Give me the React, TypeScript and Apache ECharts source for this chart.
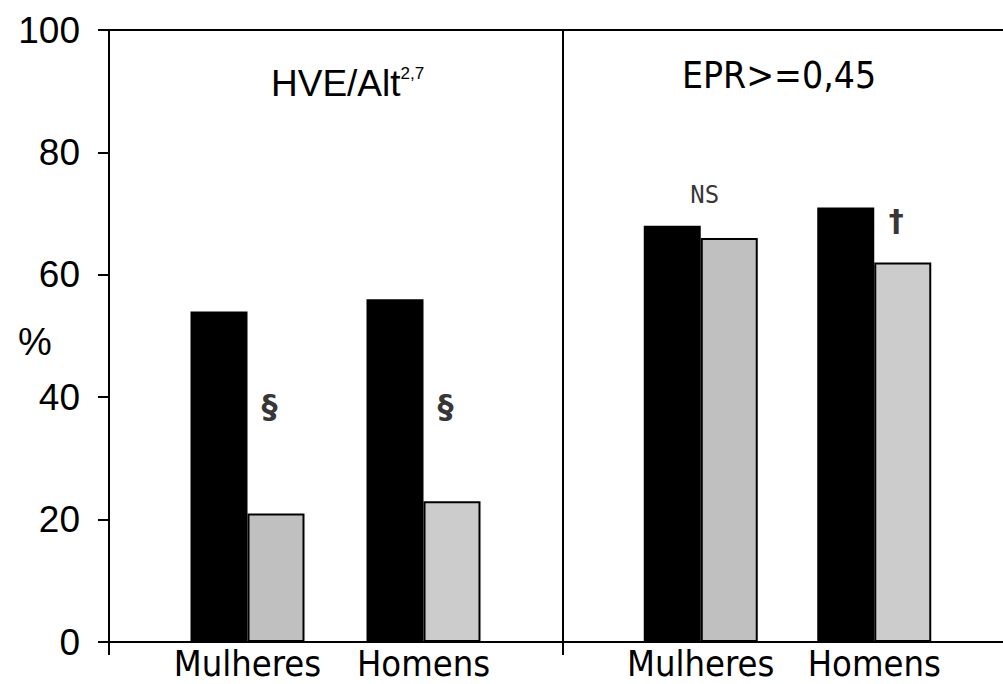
import React, { useEffect, useRef } from "react";
import * as echarts from "echarts";

const groups = ["Mulheres", "Homens"];
const hveBlack = [54, 56];
const hveGray = [21, 23];
const eprBlack = [68, 71];
const eprGray = [66, 62];
const grayColors = ["#c0c0c0", "#cccccc"];
const yTicks = { min: 0, max: 100, interval: 20 };
const panelTitles = ["HVE/Alt", "EPR>=0,45"];
const yAxisTitle = "%";
const hveAnnot = [
  { cat: "Mulheres", value: 38.5, text: "§" },
  { cat: "Homens", value: 38.5, text: "§" },
];
const eprAnnot = [
  { cat: "Mulheres", value: 73, text: "NS" },
  { cat: "Homens", value: 68.8, text: "†" },
];

const TOP = 30;
const BOTTOM = 42;

function annotSeries(list: any[], axisIdx: number, yIdx: number) {
  return {
    type: "scatter",
    xAxisIndex: axisIdx,
    yAxisIndex: yIdx,
    symbolSize: 0,
    silent: true,
    itemStyle: { color: "#000" },
    data: list.map((a) => ({
      value: [a.cat, a.value],
      label: {
        show: true,
        position: "inside",
        formatter: a.text,
        offset: a.text === "NS" ? [4, 0] : [22, 0],
        color: "#000",
        textBorderWidth: 0,
        fontFamily: a.text === "NS" ? "DejaVu Sans Mono" : "DejaVu Sans",
        fontWeight: a.text === "NS" ? "normal" : "bold",
        fontSize: a.text === "NS" ? 24 : a.text === "§" ? 32 : 30,
      },
    })),
  };
}

export default function App() {
  const ref = useRef<HTMLDivElement>(null);
  useEffect(() => {
    document.body.style.margin = "0";
    const chart = echarts.init(ref.current!, null, { renderer: "svg" });
    const catAxisHidden = (gridIndex: number) => ({
      type: "category",
      gridIndex,
      data: groups,
      axisLine: { show: false },
      axisTick: { show: false },
      splitLine: { show: false },
      axisLabel: {
        show: true,
        interval: 0,
        color: "#000",
        fontFamily: "DejaVu Sans Condensed",
        fontSize: 36,
        margin: 3,
      },
    });
    const yHidden = (gridIndex: number) => ({
      type: "value",
      gridIndex,
      min: yTicks.min,
      max: yTicks.max,
      interval: yTicks.interval,
      show: false,
    });
    const blackLine = { color: "#000", width: 2 };
    const option: any = {
      animation: false,
      backgroundColor: "#fff",
      title: [
        {
          text: "{a|" + panelTitles[0] + "}{s|2,7}",
          left: 266,
          top: 60,
          textStyle: {
            fontWeight: "normal",
            rich: {
              a: { fontFamily: "Liberation Sans", fontSize: 37, fontWeight: "normal", color: "#000", verticalAlign: "bottom" },
              s: { fontFamily: "Liberation Sans", fontSize: 17, fontWeight: "normal", color: "#000", verticalAlign: "top" },
            },
          },
        },
        {
          text: panelTitles[1],
          left: 677,
          top: 52,
          textStyle: { fontFamily: "DejaVu Sans Condensed", fontSize: 37, fontWeight: "normal", color: "#000" },
        },
        {
          text: yAxisTitle,
          left: 13,
          top: 318,
          textStyle: { fontFamily: "Liberation Sans", fontSize: 38, fontWeight: "normal", color: "#000" },
        },
      ],
      grid: [
        {
          left: 109, width: 908, top: TOP, bottom: BOTTOM,
          show: true, borderColor: "#000", borderWidth: 2, backgroundColor: "transparent",
          outerBoundsMode: "none", containLabel: false,
        },
        { left: 159.5, width: 352, top: TOP, bottom: BOTTOM, outerBoundsMode: "none", containLabel: false },
        { left: 614, width: 347, top: TOP, bottom: BOTTOM, outerBoundsMode: "none", containLabel: false },
        {
          left: 563, width: 454, top: TOP, bottom: BOTTOM,
          show: true, borderColor: "#000", borderWidth: 2, backgroundColor: "transparent",
          outerBoundsMode: "none", containLabel: false,
        },
      ],
      xAxis: [
        {
          type: "category",
          gridIndex: 0,
          data: panelTitles,
          position: "bottom",
          axisLine: { show: true, onZero: false, lineStyle: blackLine },
          axisTick: { show: true, length: 13, lineStyle: blackLine },
          axisLabel: { show: false },
          splitLine: { show: false },
        },
        catAxisHidden(1),
        catAxisHidden(2),
        { type: "category", gridIndex: 3, data: ["x"], show: false },
      ],
      yAxis: [
        {
          type: "value",
          gridIndex: 0,
          min: yTicks.min,
          max: yTicks.max,
          interval: yTicks.interval,
          axisLine: { show: true, onZero: false, lineStyle: blackLine },
          axisTick: { show: true, length: 11, lineStyle: blackLine },
          splitLine: { show: false },
          axisLabel: { color: "#000", fontFamily: "Liberation Sans", fontSize: 37, margin: 29 },
        },
        yHidden(1),
        yHidden(2),
        yHidden(3),
      ],
      series: [
        {
          type: "bar",
          xAxisIndex: 1,
          yAxisIndex: 1,
          data: hveBlack,
          barWidth: 57,
          barGap: "0%",
          itemStyle: { color: "#000" },
        },
        {
          type: "bar",
          xAxisIndex: 1,
          yAxisIndex: 1,
          data: hveGray.map((v, i) => ({ value: v, itemStyle: { color: grayColors[i] } })),
          barWidth: 57,
          barGap: "0%",
          itemStyle: { borderColor: "#000", borderWidth: 2 },
        },
        {
          type: "bar",
          xAxisIndex: 2,
          yAxisIndex: 2,
          data: eprBlack,
          barWidth: 57,
          barGap: "0%",
          itemStyle: { color: "#000" },
        },
        {
          type: "bar",
          xAxisIndex: 2,
          yAxisIndex: 2,
          data: eprGray.map((v, i) => ({ value: v, itemStyle: { color: grayColors[i] } })),
          barWidth: 57,
          barGap: "0%",
          itemStyle: { borderColor: "#000", borderWidth: 2 },
        },
        annotSeries(hveAnnot, 1, 1),
        annotSeries(eprAnnot, 2, 2),
      ],
    };
    chart.setOption(option);
    return () => chart.dispose();
  }, []);
  return <div ref={ref} style={{ width: 1003, height: 684 }} />;
}
